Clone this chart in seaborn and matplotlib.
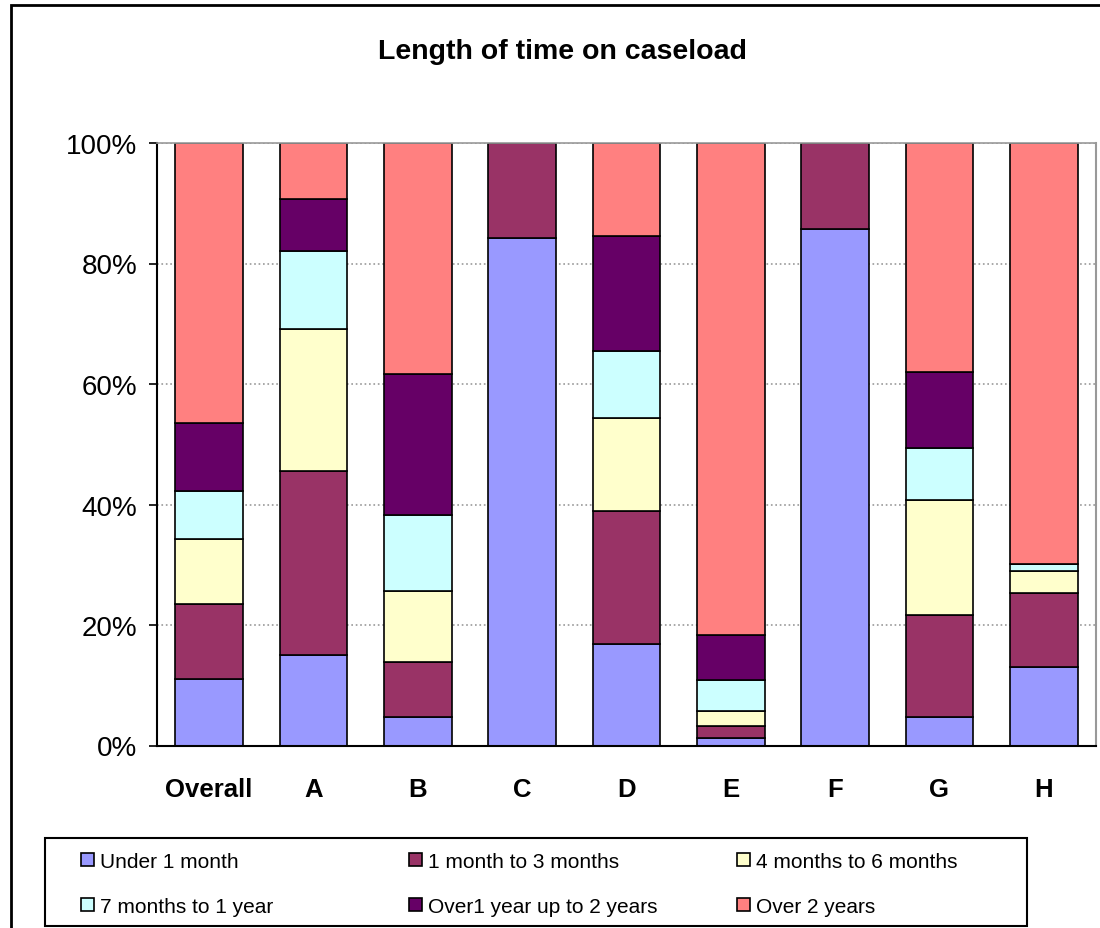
import pandas as pd
import seaborn as sns
import matplotlib.pyplot as plt
import matplotlib.patches as mpatches

# values (percent of caseload)
categories = ['Overall', 'A', 'B', 'C', 'D', 'E', 'F', 'G', 'H']
under_1_month = [11.0, 15.0, 4.8, 84.2, 16.9, 1.2, 85.7, 4.8, 13.1]
month_1_to_3 = [12.5, 30.5, 9.0, 15.8, 22.0, 2.0, 14.3, 16.9, 12.2]
month_4_to_6 = [10.7, 23.6, 11.8, 0.0, 15.5, 2.5, 0.0, 19.0, 3.6]
month_7_to_1y = [8.0, 13.0, 12.6, 0.0, 11.0, 5.2, 0.0, 8.7, 1.2]
year_1_to_2 = [11.3, 8.6, 23.4, 0.0, 19.2, 7.5, 0.0, 12.6, 0.0]
over_2_years = [46.5, 9.3, 38.4, 0.0, 15.4, 81.6, 0.0, 38.0, 69.9]

series_names = ['Under 1 month', '1 month to 3 months', '4 months to 6 months',
                '7 months to 1 year', 'Over1 year up to 2 years', 'Over 2 years']
series_values = [under_1_month, month_1_to_3, month_4_to_6,
                 month_7_to_1y, year_1_to_2, over_2_years]
colors = ['#9999FF', '#993366', '#FFFFCC', '#CCFFFF', '#660066', '#FF8080']

sns.set_style("white")
plt.rcParams['font.family'] = ['Liberation Sans', 'DejaVu Sans']
plt.rcParams['text.color'] = 'black'
plt.rcParams['xtick.color'] = 'black'
plt.rcParams['ytick.color'] = 'black'
plt.rcParams['axes.labelcolor'] = 'black'

fig = plt.figure(figsize=(11, 9.29), dpi=100)
ax = fig.add_axes([157 / 1100, 1 - 746.5 / 929, (1096 - 157) / 1100, (746.5 - 144) / 929])

# stacked bars, one seaborn layer per series
bottoms = [0.0] * len(categories)
for name, vals, col in zip(series_names, series_values, colors):
    df = pd.DataFrame({'Team': categories, 'Share': vals})
    sns.barplot(data=df, x='Team', y='Share', order=categories, color=col,
                bottom=bottoms, width=0.65, edgecolor='black', linewidth=1.2,
                errorbar=None, saturation=1, ax=ax)
    bottoms = [b + v for b, v in zip(bottoms, vals)]

ax.set_xlim(-0.5, len(categories) - 0.5)
ax.set_ylim(0, 100)
ax.set_xlabel('')
ax.set_ylabel('')
ax.set_yticks([0, 20, 40, 60, 80, 100])
ax.set_yticklabels(['0%', '20%', '40%', '60%', '80%', '100%'], fontsize=20)
ax.set_xticks(range(len(categories)))
ax.set_xticklabels(categories, fontsize=18.5, fontweight='bold')
ax.set_xticks([i + 0.5 for i in range(-1, len(categories))], minor=True)
ax.tick_params(axis='x', which='major', length=0, pad=23)
ax.tick_params(axis='x', which='minor', length=6, width=1.2, color='black', direction='out')
ax.tick_params(axis='y', length=6, width=1.2, color='black', direction='out', pad=8, left=True)

ax.yaxis.grid(True, color='#999999', linestyle=':', linewidth=1.2)
ax.set_axisbelow(True)
for side in ['left', 'bottom']:
    ax.spines[side].set_color('black')
    ax.spines[side].set_linewidth(1.5)
ax.spines['top'].set_color('#999999')
ax.spines['top'].set_linewidth(1.2)
ax.spines['right'].set_color('#999999')
ax.spines['right'].set_linewidth(1.5)

fig.text(562 / 1100, 1 - 52 / 929, 'Length of time on caseload', ha='center', va='center',
         fontsize=20.5, fontweight='bold')

# outer chart border
fig.patches.append(mpatches.Rectangle((11 / 1100, -0.05), 1.2, 1.05 - 6 / 929, transform=fig.transFigure,
                                      fill=False, edgecolor='black', linewidth=2))

# legend box and three legend columns, row-major order as in the reference
fig.patches.append(mpatches.Rectangle((45 / 1100, 1 - 927 / 929), 982 / 1100, 88 / 929,
                                      transform=fig.transFigure, fill=False,
                                      edgecolor='black', linewidth=1.5))
handles = [mpatches.Patch(facecolor=c, edgecolor='black', linewidth=1.2) for c in colors]
col_x = [81, 409, 737]
for j, x in enumerate(col_x):
    idx = [j, j + 3]
    leg = fig.legend([handles[i] for i in idx], [series_names[i] for i in idx], ncol=1,
                     loc='center left', bbox_to_anchor=(x / 1100, 1 - 885 / 929),
                     fontsize=15, frameon=False, handlelength=0.6, handleheight=0.6,
                     handletextpad=0.3, labelspacing=1.25, borderpad=0, borderaxespad=0)

fig.savefig('out.png', dpi=100)
